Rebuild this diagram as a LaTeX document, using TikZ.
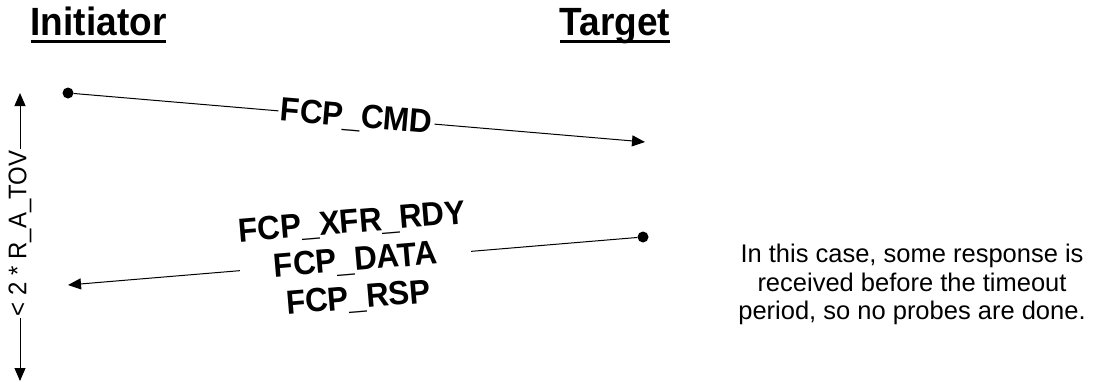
\documentclass[tikz,border=0pt]{standalone}
\usepackage{fontspec}
\setmainfont{Liberation Sans}
% slightly narrowed face for the headings and message labels
\newfontfamily\narrowsans[FakeStretch=0.94]{Liberation Sans}
\usetikzlibrary{arrows.meta,calc}

% heading text with a thick rule a little below the baseline
\newcommand\titleul[1]{\setbox0\hbox{#1}\rlap{\usebox0}\rule[-7.5pt]{\wd0}{3pt}}

\begin{document}
\begin{tikzpicture}[x=1pt,y=-1pt,
  msg/.style={line width=1pt},
  tip/.style={-{Triangle[length=13pt,width=11pt]}},
  dot/.style={circle,fill,inner sep=0pt,minimum size=11pt},
  heading/.style={anchor=base,inner sep=0pt,font=\narrowsans\bfseries\fontsize{39.4}{42}\selectfont},
  lbl/.style={inner sep=2pt,font=\narrowsans\bfseries\fontsize{33.5}{38}\selectfont},
  note/.style={align=center,font=\fontsize{25.5}{28.5}\selectfont}]
\useasboundingbox (0,0) rectangle (1094,383);

% column headings
\node[heading] (init) at (98.5,35.5) {\titleul{Initiator}};
\node[heading] (tgt)  at (615,35.5)  {\titleul{Target}};

% time span on the left
\coordinate (vtop) at (20,93);
\coordinate (vbot) at (20,381);
\node[rotate=90,inner sep=1.5pt,font=\narrowsans\fontsize{25.5}{28}\selectfont] (span) at (20,233.5) {< 2 * R\_A\_TOV};
\draw[msg,tip] (span) -- (vtop);
\draw[msg,tip] (span) -- (vbot);

% command from initiator to target
\node[dot] (d1) at (68,93) {};
\coordinate (t1) at (645,142);
\node[lbl,rotate=-4.85] (cmd) at ($(d1)!0.5!(t1)$) {FCP\_CMD};
\draw[msg] (d1) -- (cmd);
\draw[msg,tip] (cmd) -- (t1);

% response from target back to initiator
\node[dot] (d2) at (643,237) {};
\coordinate (t2) at (68,285);
\node[lbl,rotate=4.77,align=center] (resp) at ($(d2)!0.5!(t2)$) {FCP\_XFR\_RDY\\FCP\_DATA\\FCP\_RSP};
\draw[msg] (d2) -- (resp);
\draw[msg,tip] (resp) -- (t2);

% explanatory note
\node[note] (txt) at (912,284.5) {In this case, some response is\\received before the timeout\\period, so no probes are done.};
\end{tikzpicture}
\end{document}
